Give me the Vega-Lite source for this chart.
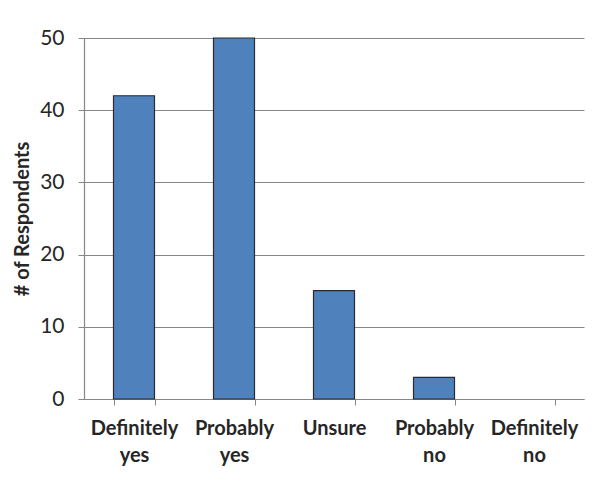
{
  "$schema": "https://vega.github.io/schema/vega-lite/v6.json",
  "width": 500,
  "height": 361,
  "autosize": {"type": "none"},
  "padding": {"left": 84, "top": 38, "right": 21, "bottom": 88},
  "background": "white",
  "data": {
    "values": [
      {"answer": "Definitely yes", "respondents": 42},
      {"answer": "Probably yes", "respondents": 50},
      {"answer": "Unsure", "respondents": 15},
      {"answer": "Probably no", "respondents": 3},
      {"answer": "Definitely no", "respondents": 0}
    ]
  },
  "mark": {"type": "bar", "color": "#4F81BD", "stroke": "#2B2B2B", "strokeWidth": 1.2},
  "encoding": {
    "x": {
      "field": "answer",
      "type": "nominal",
      "sort": null,
      "scale": {"paddingInner": 0.59, "paddingOuter": 0.295},
      "axis": {
        "title": null,
        "labelAngle": 0,
        "labelExpr": "split(datum.label, ' ')",
        "labelFont": "Lato",
        "labelFontWeight": "bold",
        "labelFontSize": 20,
        "labelLineHeight": 27,
        "labelColor": "#262626",
        "labelPadding": 13,
        "tickBand": "extent",
        "tickSize": 6,
        "tickColor": "#868686",
        "domainColor": "#868686",
        "domainWidth": 1.2
      }
    },
    "y": {
      "field": "respondents",
      "type": "quantitative",
      "scale": {"domain": [0, 50]},
      "axis": {
        "title": "# of Respondents",
        "titleFont": "Lato",
        "titleFontWeight": "bold",
        "titleFontSize": 20,
        "titleColor": "#262626",
        "titlePadding": 7,
        "values": [0, 10, 20, 30, 40, 50],
        "labelFont": "Lato",
        "labelFontSize": 21,
        "labelColor": "#262626",
        "labelPadding": 14,
        "tickSize": 6,
        "tickColor": "#868686",
        "domainColor": "#868686",
        "domainWidth": 1.2,
        "grid": true,
        "gridColor": "#868686",
        "gridWidth": 1.2
      }
    },
    "strokeOpacity": {
      "condition": {"test": "datum.respondents == 0", "value": 0},
      "value": 1
    }
  },
  "config": {
    "view": {"stroke": null}
  }
}
